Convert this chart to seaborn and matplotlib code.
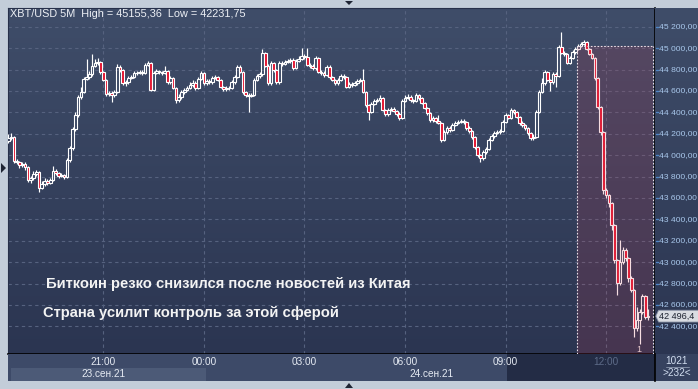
import numpy as np
import pandas as pd
import matplotlib
matplotlib.use("Agg")
import matplotlib.pyplot as plt
from matplotlib.patches import Rectangle, Polygon
import seaborn as sns

# ---------------- data ----------------
closes = [44161, 44171, 43946, 43937, 43909, 43918, 43890, 43769, 43787, 43825,
          43844, 43694, 43731, 43759, 43741, 43769, 43853, 43834, 43806, 43815,
          43797, 43956, 44068, 44245, 44376, 44545, 44591, 44713, 44731, 44759,
          44834, 44862, 44872, 44778, 44703, 44573, 44582, 44563, 44591, 44825,
          44797, 44675, 44685, 44722, 44731, 44769, 44769, 44778, 44769, 44844,
          44862, 44610, 44769, 44787, 44778, 44769, 44787, 44685, 44722, 44629,
          44516, 44545, 44591, 44610, 44629, 44657, 44675, 44629, 44713, 44769,
          44675, 44694, 44685, 44722, 44731, 44703, 44638, 44619, 44629, 44629,
          44685, 44731, 44825, 44778, 44591, 44563, 44554, 44563, 44703, 44741,
          44759, 44956, 44834, 44675, 44862, 44797, 44685, 44862, 44853, 44872,
          44881, 44890, 44815, 44881, 44900, 44928, 44918, 44844, 44834, 44815,
          44909, 44778, 44769, 44750, 44825, 44731, 44703, 44675, 44703, 44741,
          44731, 44638, 44666, 44657, 44675, 44694, 44703, 44591, 44470, 44404,
          44479, 44507, 44516, 44535, 44423, 44386, 44423, 44432, 44414, 44386,
          44348, 44507, 44535, 44545, 44516, 44507, 44563, 44535, 44488, 44442,
          44395, 44330, 44348, 44320, 44301, 44143, 44217, 44255, 44236, 44283,
          44301, 44311, 44320, 44311, 44255, 44227, 44171, 44077, 44002, 43974,
          44030, 44058, 44143, 44180, 44208, 44217, 44227, 44311, 44376, 44348,
          44423, 44404, 44358, 44301, 44283, 44255, 44208, 44161, 44171, 44404,
          44591, 44675, 44778, 44703, 44685, 44759, 44741, 45012, 44956, 44946,
          44862, 44909, 44965, 44993, 45021, 45040, 45058, 44993, 44946, 44909,
          44722, 44451, 44217, 43675, 43629, 43554, 43348, 43021, 42806, 43002,
          43115, 43040, 42853, 42741, 42386, 42460, 42535, 42685, 42488, 42496.4]

opens = [44133, 44161, 44171, 43946, 43937, 43909, 43918, 43890, 43769, 43787,
         43825, 43844, 43694, 43731, 43759, 43741, 43769, 43853, 43834, 43806,
         43815, 43797, 43956, 44068, 44245, 44376, 44545, 44591, 44713, 44731,
         44759, 44834, 44862, 44872, 44778, 44703, 44573, 44582, 44563, 44591,
         44825, 44797, 44675, 44685, 44722, 44731, 44769, 44769, 44778, 44769,
         44844, 44862, 44610, 44769, 44787, 44778, 44769, 44787, 44685, 44722,
         44629, 44516, 44545, 44591, 44610, 44629, 44657, 44675, 44629, 44713,
         44769, 44675, 44694, 44685, 44722, 44731, 44703, 44638, 44619, 44629,
         44629, 44685, 44731, 44825, 44778, 44591, 44563, 44554, 44563, 44703,
         44741, 44759, 44956, 44834, 44675, 44862, 44797, 44685, 44862, 44853,
         44872, 44881, 44890, 44815, 44881, 44900, 44928, 44918, 44844, 44834,
         44815, 44909, 44778, 44769, 44750, 44825, 44731, 44703, 44675, 44703,
         44741, 44731, 44638, 44666, 44657, 44675, 44694, 44703, 44591, 44470,
         44404, 44479, 44507, 44516, 44535, 44423, 44386, 44423, 44432, 44414,
         44386, 44348, 44507, 44535, 44545, 44516, 44507, 44563, 44535, 44488,
         44442, 44395, 44330, 44348, 44320, 44301, 44143, 44217, 44255, 44236,
         44283, 44301, 44311, 44320, 44311, 44255, 44227, 44171, 44077, 44002,
         43974, 44030, 44058, 44143, 44180, 44208, 44217, 44227, 44311, 44376,
         44348, 44423, 44404, 44358, 44301, 44283, 44255, 44208, 44161, 44171,
         44404, 44591, 44675, 44778, 44703, 44685, 44759, 44741, 45012, 44956,
         44946, 44862, 44909, 44965, 44993, 45021, 45040, 45058, 44993, 44946,
         44909, 44722, 44451, 44217, 43675, 43629, 43554, 43348, 43021, 42806,
         43002, 43115, 43040, 42853, 42741, 42386, 42460, 42535, 42685, 42488]

highs = [44200, 44208, 44180, 43965, 43950, 43940, 43935, 43900, 43810, 43850,
         43865, 43855, 43760, 43790, 43775, 43790, 43900, 43870, 43845, 43830,
         43825, 43975, 44090, 44260, 44400, 44560, 44640, 44730, 44900, 44790,
         44946, 44900, 44910, 44885, 44790, 44715, 44605, 44600, 44610, 44850,
         44845, 44805, 44700, 44740, 44750, 44785, 44790, 44800, 44795, 44860,
         44880, 44875, 44785, 44810, 44800, 44790, 44830, 44800, 44740, 44735,
         44640, 44570, 44610, 44630, 44650, 44680, 44700, 44690, 44730, 44790,
         44780, 44715, 44710, 44745, 44750, 44745, 44715, 44650, 44645, 44650,
         44700, 44750, 44845, 44840, 44790, 44600, 44580, 44585, 44720, 44760,
         44780, 44993, 44965, 44850, 44880, 44875, 44810, 44880, 44880, 44890,
         44900, 44910, 44905, 44900, 44925, 45002, 44950, 45002, 44860, 44850,
         44925, 44920, 44795, 44785, 44845, 44840, 44745, 44715, 44720, 44760,
         44755, 44745, 44685, 44680, 44695, 44710, 44720, 44806, 44600, 44480,
         44500, 44525, 44535, 44560, 44545, 44435, 44440, 44455, 44450, 44425,
         44400, 44525, 44560, 44570, 44560, 44530, 44585, 44575, 44545, 44500,
         44455, 44405, 44365, 44360, 44380, 44315, 44235, 44270, 44270, 44300,
         44320, 44330, 44335, 44335, 44320, 44270, 44240, 44180, 44090, 44015,
         44045, 44075, 44160, 44200, 44230, 44235, 44245, 44330, 44395, 44390,
         44440, 44435, 44415, 44370, 44320, 44295, 44265, 44220, 44195, 44420,
         44610, 44720, 44800, 44790, 44715, 44780, 44775, 45030, 45155.36, 44975,
         44960, 44930, 44985, 45010, 45040, 45060, 45075, 45065, 45000, 44955,
         44915, 44730, 44460, 44225, 43690, 43640, 43560, 43360, 43030, 43208,
         43140, 43130, 43050, 42870, 42750, 42580, 42560, 42700, 42695, 42560]

lows = [44110, 44140, 43925, 43915, 43885, 43890, 43860, 43750, 43745, 43770,
        43810, 43657, 43680, 43715, 43720, 43730, 43755, 43815, 43790, 43795,
        43780, 43790, 43940, 44050, 44230, 44360, 44530, 44580, 44700, 44715,
        44745, 44820, 44845, 44760, 44690, 44555, 44550, 44498, 44545, 44580,
        44780, 44660, 44650, 44670, 44710, 44720, 44750, 44755, 44750, 44755,
        44830, 44600, 44600, 44755, 44760, 44750, 44755, 44670, 44665, 44615,
        44490, 44500, 44530, 44575, 44600, 44615, 44640, 44610, 44615, 44700,
        44660, 44660, 44665, 44670, 44710, 44690, 44625, 44600, 44605, 44610,
        44615, 44670, 44720, 44765, 44575, 44540, 44404, 44540, 44550, 44690,
        44725, 44745, 44820, 44660, 44660, 44780, 44670, 44670, 44835, 44840,
        44860, 44865, 44800, 44805, 44870, 44890, 44900, 44830, 44815, 44800,
        44800, 44765, 44750, 44735, 44740, 44715, 44690, 44655, 44660, 44690,
        44715, 44625, 44625, 44640, 44645, 44660, 44680, 44580, 44455, 44330,
        44395, 44465, 44495, 44500, 44410, 44370, 44370, 44410, 44400, 44370,
        44330, 44340, 44495, 44525, 44500, 44490, 44500, 44520, 44475, 44430,
        44380, 44315, 44315, 44305, 44290, 44125, 44130, 44200, 44220, 44225,
        44270, 44290, 44300, 44295, 44240, 44210, 44155, 44060, 43985, 43937,
        43960, 44015, 44045, 44130, 44165, 44195, 44200, 44215, 44300, 44335,
        44335, 44390, 44345, 44285, 44265, 44240, 44190, 44143, 44145, 44160,
        44395, 44580, 44660, 44690, 44600, 44670, 44640, 44730, 44945, 44925,
        44850, 44850, 44900, 44950, 44985, 45010, 45030, 44980, 44935, 44895,
        44700, 44430, 44190, 43640, 43600, 43520, 43300, 42990, 42694, 42790,
        42980, 43010, 42820, 42720, 42302, 42360, 42231.75, 42520, 42470, 42460]

time_labels = ["21:00", "00:00", "03:00", "06:00", "09:00", "12:00"]
time_label_idx = [34, 70, 106, 142, 178, 214]
price_levels = [45200, 45000, 44800, 44600, 44400, 44200, 44000, 43800,
                43600, 43400, 43200, 43000, 42800, 42600, 42400]
price_labels = ["45 200,00", "45 000,00", "44 800,00", "44 600,00", "44 400,00",
                "44 200,00", "44 000,00", "43 800,00", "43 600,00", "43 400,00",
                "43 200,00", "43 000,00", "42 800,00", "42 600,00", "42 400,00"]
date_labels = ["23.сен.21", "24.сен.21"]
title_text = "XBT/USD 5M  High = 45155,36  Low = 42231,75"
headline = "Биткоин резко снизился после новостей из Китая"
subline = "Страна усилит контроль за этой сферой"
last_price_label = "42 496,4"
last_price = 42496.4
counter_top = "1021"
counter_bottom = ">232<"

df = pd.DataFrame({"open": opens, "high": highs, "low": lows, "close": closes})
df["idx"] = np.arange(len(df))

# ---------------- style ----------------
sns.set_theme(style="dark")
plt.rcParams["font.family"] = ["Liberation Sans", "DejaVu Sans"]

W, H = 698, 389
fig = plt.figure(figsize=(W / 100, H / 100), dpi=100)
fig.patch.set_facecolor("#c3cdd9")


def fx(px):
    return px / W


def fy(py):
    return 1 - py / H


XMIN, XMAX = -0.1, 231.5
YMIN, YMAX = 42142.5, 45376.0

ax = fig.add_axes([fx(8), fy(354), fx(655) - fx(8), fy(8) - fy(354)])
ax.set_xlim(XMIN, XMAX)
ax.set_ylim(YMIN, YMAX)

# gradient background
top = np.array([63, 77, 105]) / 255
bot = np.array([43, 53, 81]) / 255
grad = np.linspace(0, 1, 256)[:, None]
img = top[None, None, :] * (1 - grad[..., None]) + bot[None, None, :] * grad[..., None]
ax.imshow(img, extent=[XMIN, XMAX, YMIN, YMAX], aspect="auto", origin="upper", zorder=0)

# grid
gcol = "#56627f"
for lv in price_levels:
    ax.axhline(lv, color=gcol, lw=0.8, ls=(0, (3, 3)), zorder=1)
for xi in time_label_idx:
    ax.axvline(xi, color=gcol, lw=0.8, ls=(0, (3, 3)), zorder=1)

# candles
bw = 0.95
red = "#e3102c"
for r in df.itertuples():
    lo_b = min(r.open, r.close)
    hi_b = max(r.open, r.close)
    hb = max(hi_b - lo_b, 4)
    ax.vlines(r.idx, hi_b, r.high, color="white", lw=0.85, zorder=3)
    ax.vlines(r.idx, r.low, lo_b, color="white", lw=0.85, zorder=3)
    up = r.close >= r.open
    ax.add_patch(Rectangle((r.idx - bw / 2, lo_b), bw, hb,
                           facecolor="none" if up else red,
                           edgecolor="white", lw=0.8, zorder=4))

# selection shading
sx0, sx1, sy1 = 203.7, 230.7, 45024
ax.add_patch(Rectangle((sx0, YMIN), sx1 - sx0, sy1 - YMIN,
                       facecolor=(0.80, 0.22, 0.30, 0.17), edgecolor="none", zorder=5))
ax.plot([sx0, sx1], [sy1, sy1], color="#e8e0e8", lw=0.8, ls=(0, (1.5, 1.5)), zorder=6)
ax.plot([sx0, sx0], [YMIN, sy1], color="#e8e0e8", lw=0.8, ls=(0, (1.5, 1.5)), zorder=6)
ax.plot([sx1, sx1], [YMIN, sy1], color="#e8e0e8", lw=0.8, ls=(0, (1.5, 1.5)), zorder=6)

ax.set_xticks([])
ax.set_yticks([])
for s in ["top", "left"]:
    ax.spines[s].set_color("#27304a")
    ax.spines[s].set_linewidth(0.8)
ax.spines["bottom"].set_color("black")
ax.spines["bottom"].set_linewidth(1.2)
ax.spines["right"].set_color("black")
ax.spines["right"].set_linewidth(1.2)

# ---------------- right price axis ----------------
axr = fig.add_axes([fx(655), fy(354), fx(698) - fx(655), fy(8) - fy(354)])
axr.set_xlim(0, 43)
axr.set_ylim(YMIN, YMAX)
axr.imshow(img, extent=[0, 43, YMIN, YMAX], aspect="auto", origin="upper", zorder=0)
axr.set_xticks([])
axr.set_yticks([])
for s in axr.spines.values():
    s.set_visible(False)
lblc = "#a9c8ec"
for lv, lb in zip(price_levels, price_labels):
    axr.plot([1.2, 3.4], [lv, lv], color="#4f86c6", lw=1.0, zorder=2)
    axr.text(3.8, lv, lb, color=lblc, fontsize=6.1,
             va="center", ha="left", zorder=3)
# last price marker
bh = 55
axr.add_patch(Polygon([[0.8, last_price], [3.6, last_price + bh], [45, last_price + bh],
                       [45, last_price - bh], [3.6, last_price - bh]],
                      closed=True, facecolor="#d9dce2", edgecolor="#8a93a6", lw=0.6, zorder=4))
axr.text(4.0, last_price, last_price_label, color="#1c2230", fontsize=6.6,
         va="center", ha="left", zorder=5)

# ---------------- bottom time axis ----------------
axb = fig.add_axes([fx(8), fy(381), fx(655) - fx(8), fy(354) - fy(381)])
axb.set_xlim(XMIN, XMAX)
axb.set_ylim(381, 354)
axb.set_facecolor("#3d4a68")
axb.set_xticks([])
axb.set_yticks([])
for s in axb.spines.values():
    s.set_visible(False)
axb.add_patch(Rectangle((178.6, 354), XMAX - 178.6, 27, facecolor="#232c45",
                        edgecolor="none", zorder=1))
axb.add_patch(Rectangle((1.0, 368), 69.6, 13, facecolor="#4c5a77",
                        edgecolor="none", zorder=1))
for xi, lb in zip(time_label_idx, time_labels):
    c = "#5d6b88" if lb == "12:00" else "#e6ebf3"
    axb.text(xi, 362, lb, color=c, fontsize=7.2, ha="center", va="center", zorder=3)
axb.text(34, 374, date_labels[0], color="#e6ebf3", fontsize=7.2, ha="center", va="center", zorder=3)
axb.text(151.5, 374, date_labels[1], color="#e6ebf3", fontsize=7.2, ha="center", va="center", zorder=3)

# bottom-right counter box
axc = fig.add_axes([fx(655), fy(381), fx(698) - fx(655), fy(354) - fy(381)])
axc.set_xlim(0, 43)
axc.set_ylim(381, 354)
axc.set_facecolor("#36425f")
axc.set_xticks([])
axc.set_yticks([])
for s in axc.spines.values():
    s.set_visible(False)
axc.spines["left"].set_visible(True)
axc.spines["left"].set_color("black")
axc.spines["left"].set_linewidth(1.2)
axc.text(22, 361, counter_top, color="#d2def0", fontsize=7.2, ha="center", va="center")
axc.plot([11, 34], [367, 367], color="#8e9ab0", lw=0.6)
axc.text(22, 373, counter_bottom, color="#d2def0", fontsize=7.2, ha="center", va="center")

# ---------------- texts on plot ----------------
fig.text(fx(10), fy(14), title_text, color="#eef1f6", fontsize=7.8, ha="left", va="center")
fig.text(fx(46), fy(284), headline, color="#f3f3f3", fontsize=10.6, fontweight="bold",
         ha="left", va="center")
fig.text(fx(43), fy(313), subline, color="#f3f3f3", fontsize=10.6, fontweight="bold",
         ha="left", va="center")
fig.text(fx(639), fy(349), "1", color="#e8c9cc", fontsize=6.5, ha="center", va="center")

# ---------------- frame triangles ----------------
tri_c = "#1e2433"
fig.patches.append(Polygon([[fx(1), fy(163)], [fx(1), fy(173)], [fx(6), fy(168)]],
                           closed=True, transform=fig.transFigure, facecolor=tri_c, edgecolor="none"))
fig.patches.append(Polygon([[fx(345), fy(1)], [fx(353), fy(1)], [fx(349), fy(5)]],
                           closed=True, transform=fig.transFigure, facecolor=tri_c, edgecolor="none"))
fig.patches.append(Polygon([[fx(345), fy(388)], [fx(353), fy(388)], [fx(349), fy(383)]],
                           closed=True, transform=fig.transFigure, facecolor=tri_c, edgecolor="none"))

fig.savefig("out.png", dpi=100, facecolor=fig.get_facecolor())
